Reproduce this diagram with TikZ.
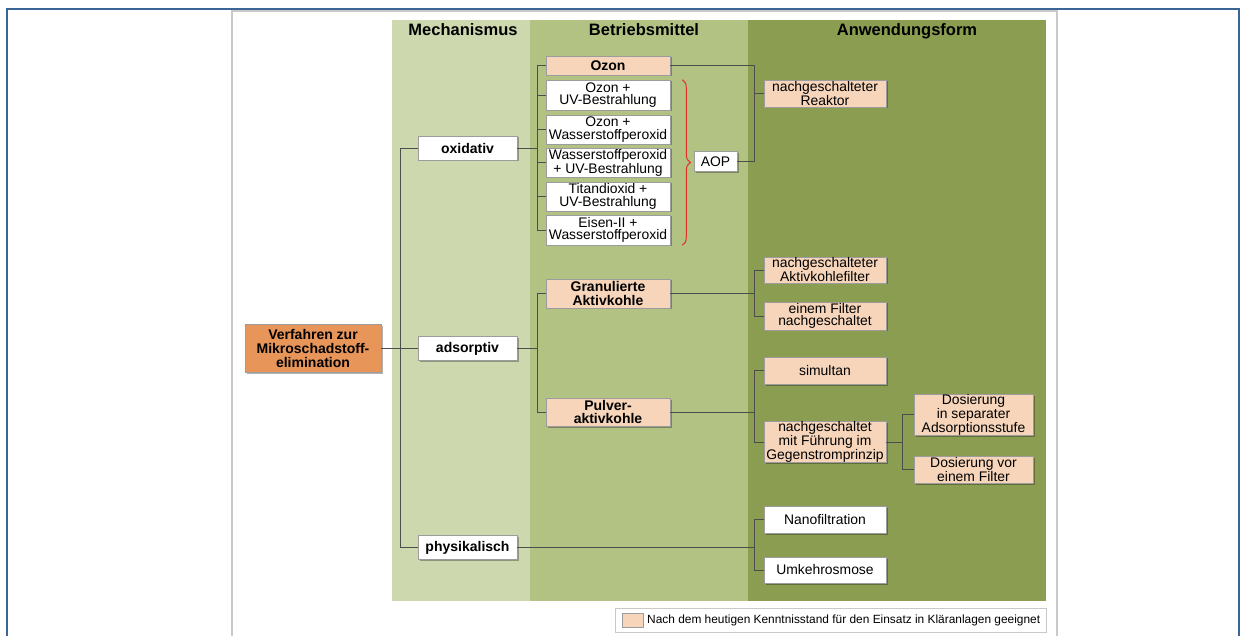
\documentclass[tikz,border=0pt]{standalone}
\usepackage{fontspec}
\setmainfont{Liberation Sans}
\usepackage{tikz}
\usetikzlibrary{shadows,decorations.pathreplacing}

\definecolor{blueframe}{HTML}{3C6597}
\definecolor{framegray}{HTML}{C9C9C9}
\definecolor{mechcol}{HTML}{CDD8AF}
\definecolor{betrcol}{HTML}{B1C283}
\definecolor{anwcol}{HTML}{8A9D51}
\definecolor{peach}{HTML}{F6D5BA}
\definecolor{rootorange}{HTML}{E8955A}
\definecolor{boxgray}{HTML}{9C9C9C}
\definecolor{linegray}{HTML}{4D4D4D}
\definecolor{bracered}{HTML}{E5302A}

\tikzset{
  link/.style={draw=linegray, line width=0.9pt},
  box/.style={draw=boxgray, line width=0.6pt, align=center, inner sep=0pt,
              font=\fontsize{13.9}{12.8}\selectfont,
              drop shadow={shadow xshift=1.5pt, shadow yshift=-1.5pt, opacity=0.3, fill=black}},
  peachbox/.style={box, fill=peach},
  plainbox/.style={box, fill=white},
  strong/.style={font=\fontsize{14}{13.8}\selectfont\bfseries},
  head/.style={anchor=base, inner sep=0pt, font=\fontsize{16.5}{16.5}\selectfont\bfseries},
  mech/.style={minimum width=99pt, minimum height=24pt},
  betr/.style={minimum width=124pt},
  anw/.style={minimum width=122pt},
}

\begin{document}
\begin{tikzpicture}[x=1pt, y=-1pt]
  \useasboundingbox (0,0) rectangle (1240,636);
  \draw[blueframe, line width=2.5pt] (7,645) -- (7,9) -- (1239,9) -- (1239,645);
  \draw[framegray, line width=1.5pt] (232,645) -- (232,11) -- (1057,11) -- (1057,645);

  \fill[mechcol] (392,20) rectangle (530,601);
  \fill[betrcol] (530,20) rectangle (748,601);
  \fill[anwcol] (748,20) rectangle (1046,601);
  \node[head] (hmech) at (463,35.5) {Mechanismus};
  \node[head] (hbetr) at (644,35.5) {Betriebsmittel};
  \node[head] (hanw) at (907,35.5) {Anwendungsform};

  \coordinate (t0) at (400,0);
  \coordinate (t1) at (537,0);
  \coordinate (t2) at (754,0);
  \coordinate (t3) at (902,0);

  \node[box, fill=rootorange, strong, minimum width=136pt, minimum height=48pt] (root) at (313,348.5)
        {Verfahren zur\\Mikroschadstoff-\\elimination};
  \node[plainbox, strong, mech] (ox) at (467.5,148) {oxidativ};
  \node[plainbox, strong, mech] (ad) at (467.5,348.5) {adsorptiv};
  \node[plainbox, strong, mech] (ph) at (467.5,547.5) {physikalisch};

  \node[peachbox, strong, betr, minimum height=19pt] (ozon) at (608,65.5) {Ozon};
  \node[plainbox, betr, minimum height=30pt] (o1) at (608,95) {Ozon +\\UV-Bestrahlung};
  \node[plainbox, betr, minimum height=29pt] (o2) at (608,129.5) {Ozon +\\Wasserstoffperoxid};
  \node[plainbox, betr, minimum height=29pt] (o3) at (608,162.5) {Wasserstoffperoxid\\+ UV-Bestrahlung};
  \node[plainbox, betr, minimum height=29pt] (o4) at (608,196.5) {Titandioxid +\\UV-Bestrahlung};
  \node[plainbox, betr, minimum height=30pt] (o5) at (608,230) {Eisen-II +\\Wasserstoffperoxid};
  \node[plainbox, minimum width=43pt, minimum height=20pt] (aop) at (715.5,161.5) {AOP};
  \node[peachbox, strong, betr, minimum height=29pt] (gak) at (608,293.5) {Granulierte\\Aktivkohle};
  \node[peachbox, strong, betr, minimum height=28pt] (pak) at (608,412) {Pulver-\\aktivkohle};

  \node[peachbox, anw, minimum height=27pt] (reak) at (825,93.5) {nachgeschalteter\\Reaktor};
  \node[peachbox, anw, minimum height=26pt] (akf) at (825,270) {nachgeschalteter\\Aktivkohlefilter};
  \node[peachbox, anw, minimum height=28pt] (efn) at (825,316) {einem Filter\\nachgeschaltet};
  \node[peachbox, anw, minimum height=27pt] (sim) at (825,370.5) {simultan};
  \node[peachbox, anw, minimum height=40pt] (geg) at (825,442)
        {nachgeschaltet\\mit Führung im\\Gegenstromprinzip};
  \node[peachbox, minimum width=119pt, minimum height=41pt] (dos1) at (973.5,414.5)
        {Dosierung\\in separater\\Adsorptionsstufe};
  \node[peachbox, minimum width=119pt, minimum height=27pt] (dos2) at (973.5,469.5)
        {Dosierung vor\\einem Filter};
  \node[plainbox, anw, minimum height=27pt] (nano) at (825,519.5) {Nanofiltration};
  \node[plainbox, anw, minimum height=26pt] (umk) at (825,570) {Umkehrosmose};

  \draw[bracered, line width=1pt, decorate, decoration={brace, amplitude=8pt}]
        ([xshift=12pt]o1.north east) -- ([xshift=12pt]o5.south east);

  \foreach \c in {ox,ad,ph}
    \draw[link] (root.east) -- (root.east -| t0) |- (\c.west);
  \foreach \c in {ozon,o1,o2,o3,o4,o5}
    \draw[link] (ox.east) -- (ox.east -| t1) |- (\c.west);
  \foreach \c in {gak,pak}
    \draw[link] (ad.east) -- (ad.east -| t1) |- (\c.west);
  \foreach \c in {ozon,aop}
    \draw[link] (\c.east) -- (\c.east -| t2) |- (reak.west);
  \foreach \c in {akf,efn}
    \draw[link] (gak.east) -- (gak.east -| t2) |- (\c.west);
  \foreach \c in {sim,geg}
    \draw[link] (pak.east) -- (pak.east -| t2) |- (\c.west);
  \foreach \c in {dos1,dos2}
    \draw[link] (geg.east) -- (geg.east -| t3) |- (\c.west);
  \foreach \c in {nano,umk}
    \draw[link] (ph.east) -- (ph.east -| t2) |- (\c.west);

  \node[draw=framegray, line width=1pt, fill=white, minimum width=431pt, minimum height=24pt] (leg) at (830.5,620) {};
  \node[draw=boxgray, line width=0.4pt, fill=peach, minimum width=21pt, minimum height=14pt, inner sep=0pt] (swatch) at (632.5,620) {};
  \node[anchor=west, inner sep=0pt, font=\fontsize{11.9}{12}\selectfont] (legtext) at (647,620)
        {Nach dem heutigen Kenntnisstand für den Einsatz in Kläranlagen geeignet};
\end{tikzpicture}
\end{document}
